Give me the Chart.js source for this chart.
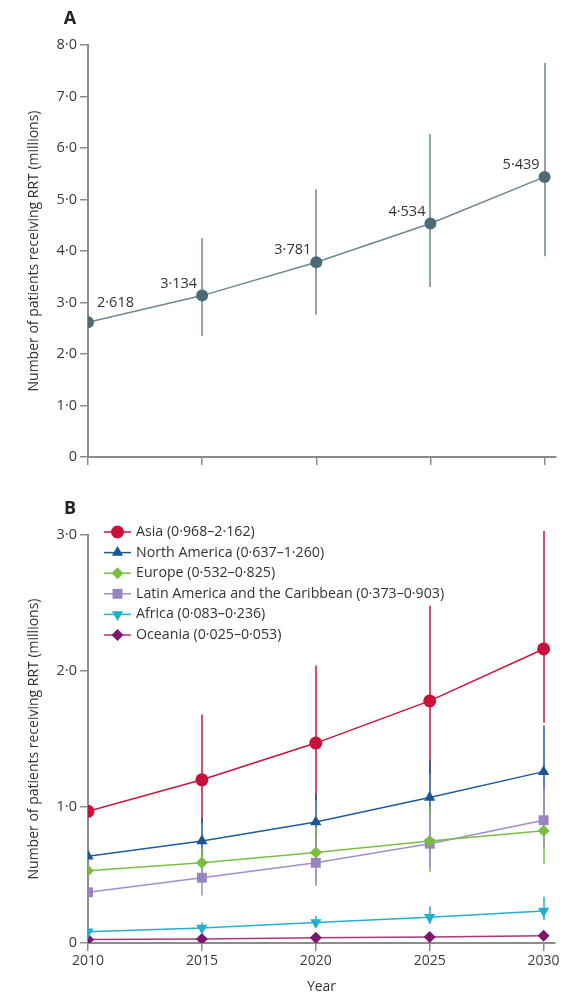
<!DOCTYPE html>
<html><head><meta charset="utf-8">
<script src="https://cdn.jsdelivr.net/npm/chart.js@4/dist/chart.umd.min.js"></script>
<style>
html,body{margin:0;padding:0;background:#fff;overflow:hidden;width:562px;height:994px;}
#wa{position:absolute;left:0;top:0;width:562px;height:480px;}
#wb{position:absolute;left:0;top:480px;width:562px;height:514px;}
</style></head><body>
<div id="wa"><canvas id="ca"></canvas></div>
<div id="wb"><canvas id="cb"></canvas></div>
<script>
// ---------- data ----------
const years = [2010, 2015, 2020, 2025, 2030];

// Panel A: total
const totalValues = [2.618, 3.134, 3.781, 4.534, 5.439];
const totalLower  = [null, 2.35, 2.76, 3.30, 3.90];
const totalUpper  = [null, 4.25, 5.20, 6.27, 7.65];
const totalLabels = ['2·618', '3·134', '3·781', '4·534', '5·439'];
const yTicksA = [0, 1, 2, 3, 4, 5, 6, 7, 8];

// Panel B: regions
const regionNames = ['Asia (0·968–2·162)', 'North America (0·637–1·260)', 'Europe (0·532–0·825)',
  'Latin America and the Caribbean (0·373–0·903)', 'Africa (0·083–0·236)', 'Oceania (0·025–0·053)'];
const asiaValues    = [0.968, 1.20, 1.47, 1.78, 2.162];
const asiaLower     = [null, 0.88, 1.05, 1.24, 1.62];
const asiaUpper     = [null, 1.68, 2.04, 2.48, 3.03];
const naValues      = [0.637, 0.75, 0.89, 1.07, 1.260];
const naLower       = [null, 0.62, 0.70, 0.82, 0.95];
const naUpper       = [null, 0.92, 1.10, 1.35, 1.60];
const europeValues  = [0.532, 0.59, 0.665, 0.75, 0.825];
const europeLower   = [null, 0.50, 0.44, 0.52, 0.58];
const europeUpper   = [null, 0.70, 0.85, 1.00, 1.10];
const latamValues   = [0.373, 0.48, 0.59, 0.73, 0.903];
const latamLower    = [null, 0.35, 0.42, 0.55, 0.70];
const latamUpper    = [null, 0.62, 0.78, 0.95, 1.15];
const africaValues  = [0.083, 0.11, 0.15, 0.19, 0.236];
const africaLower   = [null, 0.09, 0.12, 0.14, 0.17];
const africaUpper   = [null, 0.15, 0.20, 0.27, 0.34];
const oceaniaValues = [0.025, 0.03, 0.038, 0.045, 0.053];
const oceaniaLower  = [null, 0.025, 0.03, 0.035, 0.04];
const oceaniaUpper  = [null, 0.04, 0.05, 0.06, 0.07];
const yTicksB = [0, 1, 2, 3];

// ---------- styling ----------
const FONT = "'Open Sans', 'DejaVu Sans', sans-serif";
Chart.defaults.font.family = FONT;
Chart.defaults.color = '#3a3a3a';
const AXIS = '#8c8c8c';
const fmt = v => v === 0 ? '0' : v.toFixed(1).replace('.', '·');
const pts = vals => years.map((x, i) => ({x, y: vals[i]}));

const errorBars = {
  id: 'errorBars',
  beforeDatasetsDraw(chart) {
    const {ctx, scales: {x, y}} = chart;
    ctx.save();
    chart.data.datasets.forEach(ds => {
      if (!ds.errLow) return;
      ctx.strokeStyle = ds.errColor || ds.borderColor;
      ctx.lineWidth = 1.5;
      years.forEach((yr, i) => {
        if (ds.errLow[i] == null) return;
        const px = Math.round(x.getPixelForValue(yr));
        ctx.beginPath();
        ctx.moveTo(px, y.getPixelForValue(ds.errLow[i]));
        ctx.lineTo(px, y.getPixelForValue(ds.errHigh[i]));
        ctx.stroke();
      });
    });
    ctx.restore();
  }
};

const panelLetter = (letter) => ({
  id: 'letter' + letter,
  afterDraw(chart) {
    const ctx = chart.ctx;
    ctx.save();
    ctx.font = "bold 18px " + FONT;
    ctx.fillStyle = '#222';
    ctx.textAlign = 'center';
    ctx.textBaseline = 'middle';
    ctx.fillText(letter, 70, chart.chartArea.top - 26);
    ctx.restore();
  }
});

const valueLabels = {
  id: 'valueLabels',
  afterDatasetsDraw(chart) {
    const ctx = chart.ctx;
    const meta = chart.getDatasetMeta(0);
    ctx.save();
    ctx.font = "14.5px " + FONT;
    ctx.fillStyle = '#333';
    ctx.textBaseline = 'middle';
    meta.data.forEach((p, i) => {
      if (i === 0) { ctx.textAlign = 'left'; ctx.fillText(totalLabels[i], p.x + 9, p.y - 19); }
      else { ctx.textAlign = 'right'; ctx.fillText(totalLabels[i], p.x - 5, p.y - 12); }
    });
    ctx.restore();
  }
};

function drawMarker(ctx, ds, x, y) {
  ctx.fillStyle = ds.pointBackgroundColor;
  ctx.strokeStyle = ds.pointBackgroundColor;
  const opts = {pointStyle: ds.pointStyle, radius: ds.pointRadius, rotation: ds.pointRotation || 0, borderWidth: 0};
  if (Chart.helpers && Chart.helpers.drawPoint) {
    Chart.helpers.drawPoint(ctx, opts, x, y);
  } else {
    ctx.beginPath(); ctx.arc(x, y, ds.pointRadius, 0, Math.PI * 2); ctx.fill();
  }
}

const legendB = {
  id: 'legendB',
  afterDraw(chart) {
    const ctx = chart.ctx;
    const top = chart.chartArea.top - 3;
    ctx.save();
    ctx.font = "14.2px " + FONT;
    ctx.textBaseline = 'middle';
    ctx.textAlign = 'left';
    chart.data.datasets.forEach((ds, i) => {
      const yy = top + i * 20.6;
      ctx.strokeStyle = ds.borderColor;
      ctx.lineWidth = 1.5;
      ctx.beginPath(); ctx.moveTo(104, yy); ctx.lineTo(131, yy); ctx.stroke();
      drawMarker(ctx, ds, 117.5, yy);
      ctx.fillStyle = '#333';
      ctx.fillText(ds.label, 136, yy);
    });
    ctx.restore();
  }
};

function xScale(showLabels, height, title) {
  return {
    type: 'linear', min: 2010, max: 2030.5,
    afterBuildTicks: s => { s.ticks = years.map(v => ({value: v})); },
    afterFit: s => { s.height = height; },
    grid: {drawOnChartArea: false, drawTicks: true, tickLength: 8, color: AXIS, lineWidth: 1.5},
    border: {color: AXIS, width: 2},
    ticks: {display: showLabels, font: {size: 14}, color: '#3a3a3a', padding: 2, callback: v => String(v), maxRotation: 0},
    title: title ? {display: true, text: title, font: {size: 14, lineHeight: 1}, color: '#333', padding: {top: 0, bottom: 0}} : {display: false}
  };
}
function yScale(max, ticks) {
  return {
    min: 0, max: max,
    afterBuildTicks: s => { s.ticks = ticks.map(v => ({value: v})); },
    afterFit: s => { s.width = 88; },
    grid: {drawOnChartArea: false, drawTicks: true, tickLength: 8, color: AXIS, lineWidth: 1.5},
    border: {color: AXIS, width: 2},
    ticks: {font: {size: 14.5}, color: '#3a3a3a', padding: 3, callback: v => fmt(v)},
    title: {display: true, text: 'Number of patients receiving RRT (millions)', font: {size: 14}, color: '#333', padding: {top: 26, bottom: 0}}
  };
}

const common = {
  responsive: true, maintainAspectRatio: false, animation: false, devicePixelRatio: 1,
  plugins: {legend: {display: false}, tooltip: {enabled: false}}
};

new Chart(document.getElementById('ca'), {
  type: 'line',
  data: {datasets: [{
    label: 'Total', data: pts(totalValues), errLow: totalLower, errHigh: totalUpper, errColor: '#6d8690',
    borderColor: '#6b8791', borderWidth: 1.5, pointRadius: 6, pointBackgroundColor: '#4d6a75', pointBorderWidth: 0, tension: 0
  }]},
  options: Object.assign({}, common, {
    layout: {padding: {left: 0, right: 2, top: 45, bottom: 0}},
    scales: {x: xScale(false, 23), y: yScale(8, yTicksA)}
  }),
  plugins: [errorBars, valueLabels, panelLetter('A')]
});

const mk = (label, vals, lo, hi, color, markerColor, style, radius, rotation) => ({
  label, data: pts(vals), errLow: lo, errHigh: hi,
  borderColor: color, borderWidth: 1.5, pointStyle: style, pointRadius: radius, pointRotation: rotation || 0,
  pointBackgroundColor: markerColor, pointBorderColor: markerColor, pointBorderWidth: 0, tension: 0
});

new Chart(document.getElementById('cb'), {
  type: 'line',
  data: {datasets: [
    mk(regionNames[0], asiaValues, asiaLower, asiaUpper, '#c8143c', '#c8103a', 'circle', 6.5),
    mk(regionNames[1], naValues, naLower, naUpper, '#1f5b9c', '#1a5596', 'triangle', 6.5),
    mk(regionNames[2], europeValues, europeLower, europeUpper, '#7bbf44', '#78bd40', 'rectRot', 6),
    mk(regionNames[3], latamValues, latamLower, latamUpper, '#a48ccb', '#9a84bf', 'rect', 7),
    mk(regionNames[4], africaValues, africaLower, africaUpper, '#22b2cf', '#20b0cd', 'triangle', 6.5, 180),
    mk(regionNames[5], oceaniaValues, oceaniaLower, oceaniaUpper, '#b0357f', '#7d1670', 'rectRot', 6)
  ]},
  options: Object.assign({}, common, {
    layout: {padding: {left: 0, right: 2, top: 55, bottom: 0}},
    scales: {x: xScale(true, 51, 'Year'), y: yScale(3, yTicksB)}
  }),
  plugins: [errorBars, legendB, panelLetter('B')]
});
</script>
</body></html>
